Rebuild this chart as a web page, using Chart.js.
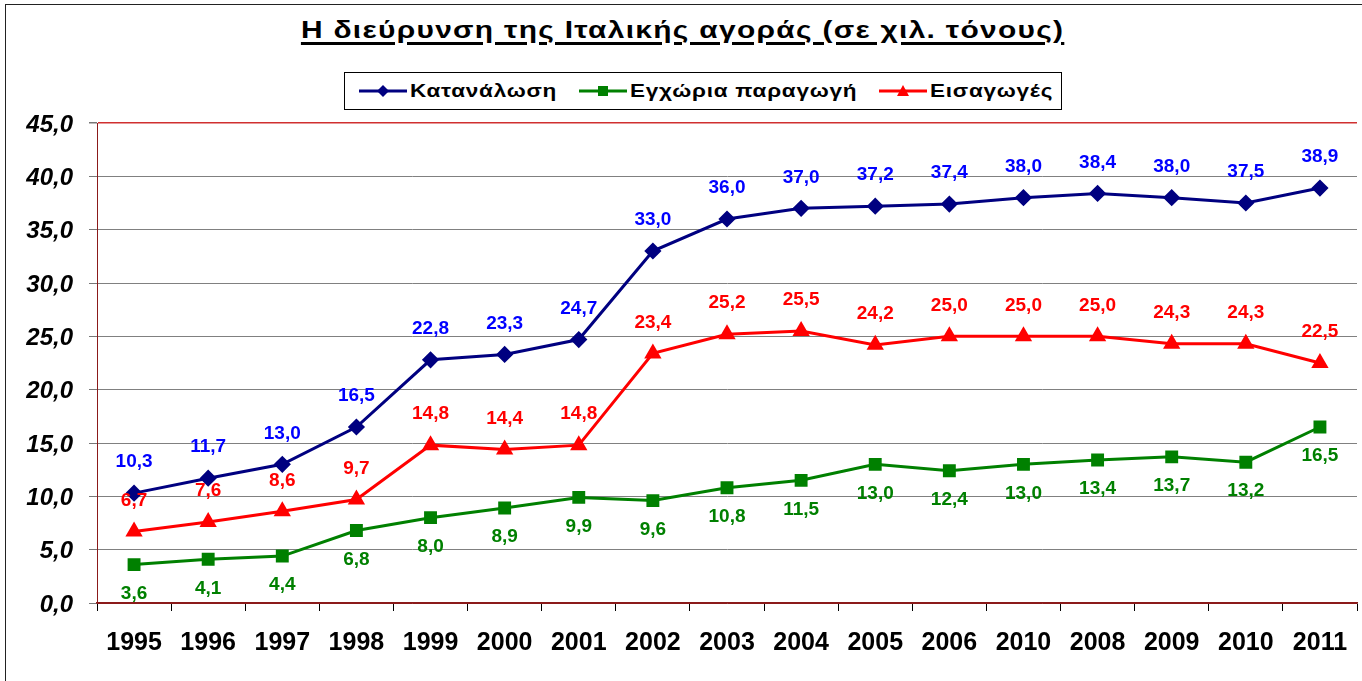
<!DOCTYPE html>
<html>
<head>
<meta charset="utf-8">
<script src="https://cdn.jsdelivr.net/npm/chart.js@4.4.0/dist/chart.umd.min.js"></script>
<style>
  body { margin: 0; width: 1362px; height: 681px; overflow: hidden; position: relative; background: #fff;
         font-family: "Liberation Sans", Arial, sans-serif; }
  #frame { position: absolute; left: 5px; top: 4px; width: 1400px; height: 700px; border: 1px solid #222; }
  #title { position: absolute; left: 0; top: 15px; width: 1365px; text-align: center; font-size: 23px; line-height: 30px;
           font-weight: bold; }
  #title span { display: inline-block; letter-spacing: 1px; transform: scaleX(1.3); transform-origin: center;
                text-decoration: underline; text-decoration-thickness: 3px; text-underline-offset: 4px; }
  #legend { position: absolute; left: 344px; top: 72px; width: 716px; height: 36px; border: 1px solid #000; }
  .item { position: absolute; top: 0; height: 36px; display: flex; align-items: center; font-size: 18px; font-weight: bold; white-space: nowrap; }
  .item svg { margin-right: 3px; }
  .item span { display: inline-block; letter-spacing: 0.6px; transform: scaleX(1.25); transform-origin: left center; }
  #chart { position: absolute; left: 0; top: 0; }
</style>
</head>
<body>
<div id="frame"></div>
<div id="title"><span>Η διεύρυνση της Ιταλικής αγοράς (σε χιλ. τόνους)</span></div>
<div id="legend"></div>
<canvas id="chart" width="1367" height="681"></canvas>
<script>
const years = ['1995', '1996', '1997', '1998', '1999', '2000', '2001', '2002', '2003', '2004', '2005', '2006', '2010', '2008', '2009', '2010', '2011'];
const consumption = [10.3, 11.7, 13.0, 16.5, 22.8, 23.3, 24.7, 33.0, 36.0, 37.0, 37.2, 37.4, 38.0, 38.4, 38.0, 37.5, 38.9];
const domestic = [3.6, 4.1, 4.4, 6.8, 8.0, 8.9, 9.9, 9.6, 10.8, 11.5, 13.0, 12.4, 13.0, 13.4, 13.7, 13.2, 16.5];
const imports = [6.7, 7.6, 8.6, 9.7, 14.8, 14.4, 14.8, 23.4, 25.2, 25.5, 24.2, 25.0, 25.0, 25.0, 24.3, 24.3, 22.5];
const seriesNames = ['Κατανάλωση', 'Εγχώρια παραγωγή', 'Εισαγωγές'];

const fmt = v => v.toFixed(1).replace('.', ',');

// legend (line sample + marker, then name)
const legendItems = [
    { left: 14, color: '#000080', marker: '<polygon points="24,0 30,6 24,12 18,6" fill="#000080"/>' },
    { left: 234, color: '#008000', marker: '<rect x="19" y="1" width="10" height="10" fill="#008000"/>' },
    { left: 534, color: '#FF0000', marker: '<polygon points="24,0 30,11 18,11" fill="#FF0000"/>' }
];
const legendDiv = document.getElementById('legend');
legendItems.forEach((it, i) => {
    const el = document.createElement('div');
    el.className = 'item';
    el.style.left = it.left + 'px';
    el.innerHTML = '<svg width="48" height="12"><line x1="0" y1="6" x2="48" y2="6" stroke="' + it.color + '" stroke-width="3"/>' +
        it.marker + '</svg><span>' + seriesNames[i] + '</span>';
    legendDiv.appendChild(el);
});

const valueLabels = {
    id: 'valueLabels',
    afterDatasetsDraw(chart) {
        const ctx = chart.ctx;
        ctx.save();
        ctx.font = 'bold 19px "Liberation Sans", Arial, sans-serif';
        ctx.textAlign = 'center';
        ctx.textBaseline = 'middle';
        chart.data.datasets.forEach((ds, i) => {
            const meta = chart.getDatasetMeta(i);
            ctx.fillStyle = ds.labelColor;
            meta.data.forEach((pt, j) => {
                ctx.fillText(fmt(ds.data[j]), pt.x, pt.y + ds.labelOffset);
            });
        });
        ctx.restore();
    }
};

const ctx = document.getElementById('chart').getContext('2d');
new Chart(ctx, {
    type: 'line',
    data: {
        labels: years,
        datasets: [
            { label: seriesNames[0], data: consumption, borderColor: '#000080', backgroundColor: '#000080',
              borderWidth: 3, pointStyle: 'rectRot', pointRadius: 6.5, labelColor: '#0000FF', labelOffset: -31 },
            { label: seriesNames[1], data: domestic, borderColor: '#008000', backgroundColor: '#008000',
              borderWidth: 3, pointStyle: 'rect', pointRadius: 7, labelColor: '#008000', labelOffset: 29 },
            { label: seriesNames[2], data: imports, borderColor: '#FF0000', backgroundColor: '#FF0000',
              borderWidth: 3, pointStyle: 'triangle', pointRadius: 7, labelColor: '#FF0000', labelOffset: -31 }
        ]
    },
    options: {
        responsive: false,
        animation: false,
        layout: { padding: { top: 123, left: 0, right: 0, bottom: 0 } },
        plugins: { legend: { display: false }, title: { display: false }, tooltip: { enabled: false } },
        elements: { line: { tension: 0 }, point: { borderWidth: 1 } },
        scales: {
            x: {
                offset: true,
                afterFit: s => { s.height = 78; },
                grid: { drawOnChartArea: false, offset: true, tickLength: 8, tickColor: '#000' },
                border: { color: '#8B1A1A', width: 1.5 },
                ticks: { color: '#000', padding: 17, maxRotation: 0, autoSkip: false,
                         font: { family: '"Liberation Sans", Arial, sans-serif', size: 25, weight: 'bold' } }
            },
            y: {
                min: 0, max: 45,
                afterFit: s => { s.width = 97; },
                grid: {
                    color: c => c.tick.value === 45 ? '#D03030' : (c.tick.value === 0 ? '#8B1A1A' : '#808080'),
                    lineWidth: c => c.tick.value === 45 ? 1.5 : 1,
                    tickColor: '#777', tickLength: 8
                },
                border: { color: '#8B1A1A', width: 1 },
                ticks: { stepSize: 5, color: '#000', padding: 16, labelOffset: 2, callback: v => fmt(v),
                         font: { family: '"Liberation Sans", Arial, sans-serif', size: 24, weight: 'bold', style: 'italic' } }
            }
        }
    },
    plugins: [valueLabels]
});
</script>
</body>
</html>
